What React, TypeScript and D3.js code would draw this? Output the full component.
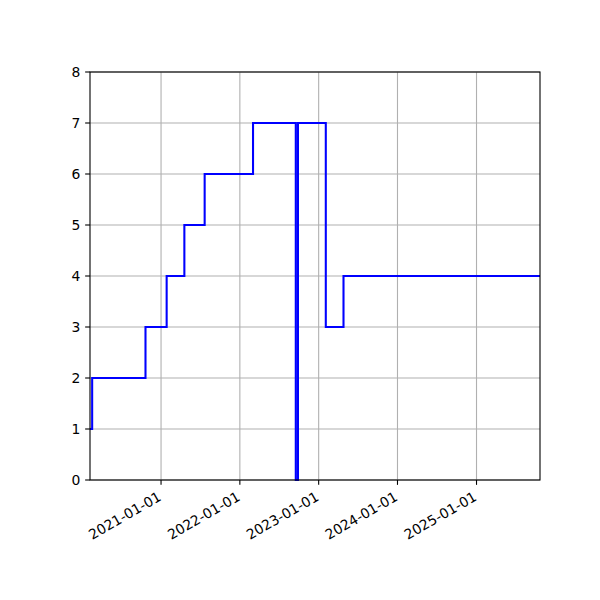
import React from "react";
import * as d3 from "d3";

const dates: string[] = [
  "2020-02-07", "2020-02-17", "2020-10-21", "2021-01-27", "2021-04-19", "2021-07-22",
  "2022-03-03", "2022-09-17", "2022-09-27", "2023-02-03", "2023-04-26", "2025-10-22",
];
const values: number[] = [1, 2, 3, 4, 5, 6, 7, 0, 7, 3, 4, 4];
const xTickLabels: string[] = ["2021-01-01", "2022-01-01", "2023-01-01", "2024-01-01", "2025-01-01"];
const yTicks: number[] = [0, 1, 2, 3, 4, 5, 6, 7, 8];

const W = 600, H = 600;
const M = { left: 90, right: 540, top: 72, bottom: 480 };
const FONT = "DejaVu Sans, sans-serif";
const FS = 13.9;

export default function App() {
  const parse = d3.utcParse("%Y-%m-%d");
  const pts = dates.map((d, i) => ({ t: parse(d) as Date, v: values[i] }));
  const x = d3.scaleUtc().domain([pts[0].t, pts[pts.length - 1].t]).range([M.left, M.right]);
  const y = d3.scaleLinear().domain([0, 8]).range([M.bottom, M.top]);
  const line = d3.line<{ t: Date; v: number }>().x((d) => x(d.t)).y((d) => y(d.v)).curve(d3.curveStepAfter);
  const xt = xTickLabels.map((s) => ({ s, px: x(parse(s) as Date) }));
  const tickLen = 4.86, pad = 4.86;
  const hBox = 1.16 * FS;
  return (
    <svg width={W} height={H} style={{ position: "absolute", left: 0, top: 0, background: "#fff" }}>
      <rect x={0} y={0} width={W} height={H} fill="#fff" />
      <g stroke="#b0b0b0" strokeWidth={1.1}>
        {xt.map((d) => (
          <line key={d.s} x1={d.px} x2={d.px} y1={M.top} y2={M.bottom} />
        ))}
        {yTicks.map((v) => (
          <line key={v} x1={M.left} x2={M.right} y1={y(v)} y2={y(v)} />
        ))}
      </g>
      <clipPath id="clip">
        <rect x={M.left} y={M.top - 2} width={M.right - M.left} height={M.bottom - M.top + 4} />
      </clipPath>
      <path d={line(pts) || ""} fill="none" stroke="#0000ff" strokeWidth={2.08} clipPath="url(#clip)" strokeLinejoin="miter" />
      <rect x={M.left} y={M.top} width={M.right - M.left} height={M.bottom - M.top} fill="none" stroke="#000" strokeWidth={1.1} />
      <g stroke="#000" strokeWidth={1.1}>
        {xt.map((d) => (
          <line key={d.s} x1={d.px} x2={d.px} y1={M.bottom} y2={M.bottom + tickLen} />
        ))}
        {yTicks.map((v) => (
          <line key={v} x1={M.left - tickLen} x2={M.left} y1={y(v)} y2={y(v)} />
        ))}
      </g>
      <g fontFamily={FONT} fontSize={FS} fill="#000">
        {yTicks.map((v) => (
          <text key={v} x={M.left - tickLen - pad} y={y(v)} textAnchor="end" dominantBaseline="central">
            {v}
          </text>
        ))}
        {xt.map((d) => (
          <g key={d.s} transform={`translate(${d.px - 0.5 * hBox + 3},${M.bottom + tickLen + pad - 1}) rotate(-30)`}>
            <text x={0} y={0.9 * FS} textAnchor="end">
              {d.s}
            </text>
          </g>
        ))}
      </g>
    </svg>
  );
}
